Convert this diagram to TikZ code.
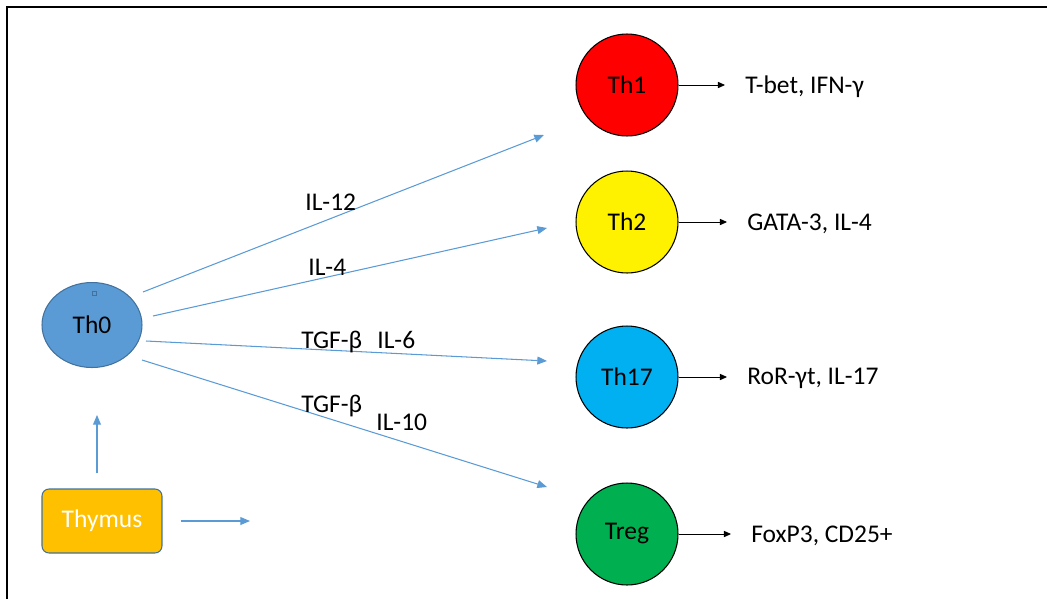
\documentclass[tikz,border=0pt]{standalone}
\usepackage{fontspec}
\setmainfont{Carlito}
\usetikzlibrary{arrows.meta,shapes.geometric}
\definecolor{th0blue}{HTML}{5B9BD5}
\definecolor{rimblue}{HTML}{41719C}
\definecolor{thymusgold}{HTML}{FFC000}
\definecolor{th17blue}{HTML}{00B0F0}
\definecolor{treggreen}{HTML}{00B050}

\begin{document}
\begin{tikzpicture}[x=0.02cm,y=-0.02cm,
  every node/.style={font=\fontsize{14.5}{16}\selectfont},
  cell/.style={circle,draw=black,line width=0.6pt,minimum size=2.04cm,inner sep=0pt},
  signal/.style={th0blue,line width=0.6pt,-{Triangle[length=5.5pt,width=4.5pt]}},
  marker/.style={line width=0.5pt,-{Triangle[length=4pt,width=3.5pt]},shorten >=0.4cm},
  factor/.style={anchor=base west,inner sep=0pt}]
  \useasboundingbox (0,0) rectangle (1047,599);
  \draw[line width=1.6pt] (7,599) -- (7,7) -- (1047,7);

  \node[ellipse,fill=th0blue,draw=rimblue,line width=0.6pt,minimum width=2cm,minimum height=1.7cm,inner sep=0pt] (th0) at (92,325) {Th0};
  \draw[rimblue,line width=0.4pt] (92,291) rectangle (96,295);
  \node[rectangle,rounded corners=4pt,fill=thymusgold,draw=rimblue,line width=0.6pt,minimum width=2.4cm,minimum height=1.28cm,text=white] (thymus) at (102,521) {Thymus};
  \coordinate (up) at (97,415);
  \coordinate (right) at (250,521);
  \draw[signal,shorten <=0.3cm] (thymus.north -| up) -- (up);
  \draw[signal,shorten <=0.36cm] (thymus.east |- right) -- (right);

  \node[cell,fill=red] (th1) at (627,85) {Th1};
  \node[cell,fill=yellow] (th2) at (627,222) {Th2};
  \node[cell,fill=th17blue] (th17) at (627,377) {Th17};
  \node[cell,fill=treggreen] (treg) at (627,534) {Treg};

  \node[factor] (m1) at (745,93) {T-bet, IFN-γ};
  \node[factor] (m2) at (747,230) {GATA-3, IL-4};
  \node[factor] (m3) at (747,384) {RoR-γt, IL-17};
  \node[factor] (m4) at (751,542) {FoxP3, CD25+};
  \foreach \c/\m in {th1/m1,th2/m2,th17/m3,treg/m4}
    \draw[marker] (\c.east) -- (\c.east -| \m.west);

  \foreach \n/\sx/\sy/\tx/\ty in {1/143/292/544/135,2/153/316/547/228,3/146/341/547/361,4/142/360/547/487}{
    \coordinate (s\n) at (\sx,\sy);
    \coordinate (t\n) at (\tx,\ty);
    \draw[signal] (s\n) -- (t\n);
  }

  \node[factor] (il12) at (305,210) {IL-12};
  \node[factor] (il4) at (308,275) {IL-4};
  \node[factor] (tgfa) at (301,348) {TGF-β};
  \node[factor] (il6) at (377,348) {IL-6};
  \node[factor] (tgfb) at (301,412) {TGF-β};
  \node[factor] (il10) at (376,430) {IL-10};
\end{tikzpicture}
\end{document}
